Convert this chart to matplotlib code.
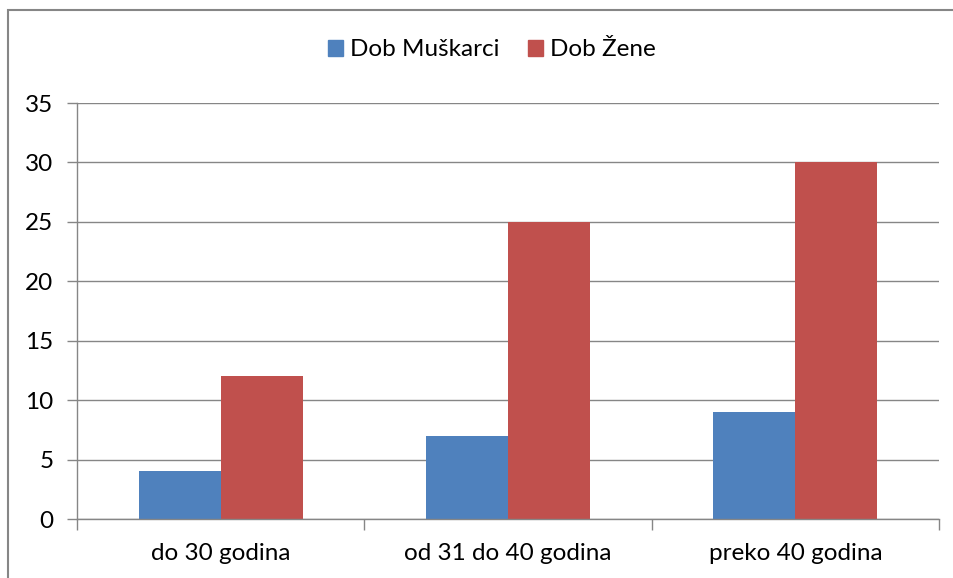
import matplotlib.pyplot as plt
import matplotlib.patches as mpatches
import numpy as np

# Podaci
kategorije = ['do 30 godina', 'od 31 do 40 godina', 'preko 40 godina']
muskarci = [4, 7, 9]
zene = [12, 25, 30]
serije = ['Dob Muškarci', 'Dob Žene']
boje = ['#4F81BD', '#C0504D']
y_ticks = [0, 5, 10, 15, 20, 25, 30, 35]

siva = '#868686'
vel = 17.5
plt.rcParams['font.family'] = ['Lato', 'DejaVu Sans']

fig = plt.figure(figsize=(9.54, 5.78), dpi=100)
ax = fig.add_axes([77 / 954, 59 / 578, 862 / 954, 416 / 578])

x = np.arange(len(kategorije))
sirina = 1 / 3.5
ax.bar(x - sirina / 2, muskarci, sirina, color=boje[0], label=serije[0], zorder=3)
ax.bar(x + sirina / 2, zene, sirina, color=boje[1], label=serije[1], zorder=3)

ax.set_xlim(-0.5, len(kategorije) - 0.5)
ax.set_ylim(0, 35)
ax.set_yticks(y_ticks)
ax.tick_params(axis='y', length=7, width=1, color=siva, labelsize=vel, pad=10)

# kvačice na granicama kategorija, natpisi u sredini
ax.set_xticks(np.arange(len(kategorije) + 1) - 0.5)
ax.set_xticklabels([])
ax.tick_params(axis='x', which='major', length=8, width=1, color=siva)
ax.set_xticks(x, minor=True)
ax.set_xticklabels(kategorije, minor=True)
ax.tick_params(axis='x', which='minor', length=0, labelsize=vel, pad=17)

ax.yaxis.grid(True, color=siva, linewidth=1, zorder=0)
ax.set_axisbelow(True)
for s in ['top', 'right']:
    ax.spines[s].set_visible(False)
for s in ['left', 'bottom']:
    ax.spines[s].set_color(siva)
    ax.spines[s].set_linewidth(1)
    ax.spines[s].set_zorder(4)

ruke = [mpatches.Patch(color=c, label=l) for c, l in zip(boje, serije)]
fig.legend(handles=ruke, loc='center', bbox_to_anchor=(492 / 954, 1 - 50 / 578), ncol=2,
           frameon=False, fontsize=vel, handlelength=0.62, handleheight=0.62,
           handletextpad=0.3, columnspacing=1.15)

# okvir grafikona
okvir = mpatches.Rectangle((8 / 954, -0.1), 1.2, 1.1 - 10 / 578,
                           transform=fig.transFigure, fill=False,
                           edgecolor=siva, linewidth=1.5)
fig.add_artist(okvir)

fig.savefig('out.png', dpi=100)
